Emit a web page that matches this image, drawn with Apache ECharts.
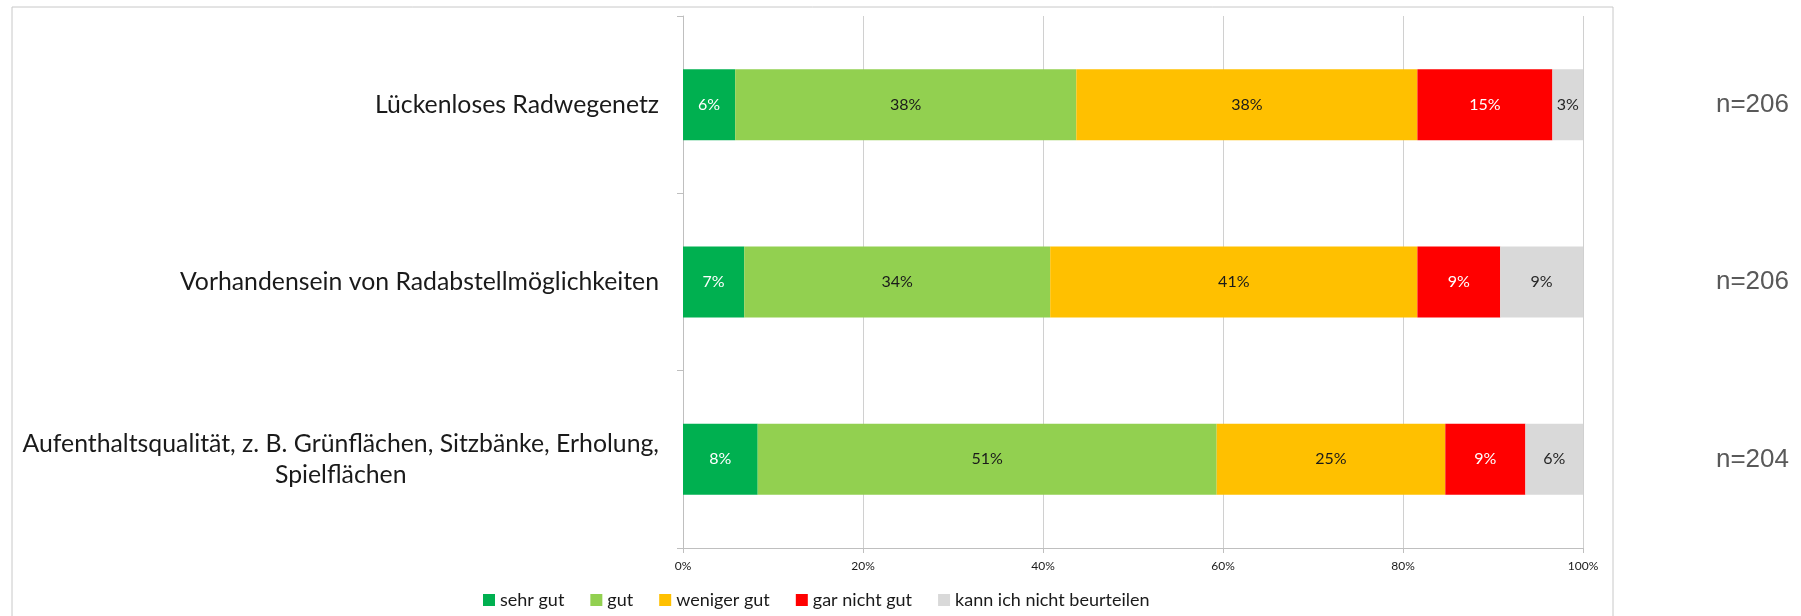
<!DOCTYPE html>
<html>
<head>
<meta charset="utf-8">
<script src="https://cdn.jsdelivr.net/npm/echarts@6/dist/echarts.min.js"></script>
<style>
  html, body { margin: 0; padding: 0; background: #fff; }
  #chart { width: 1801px; height: 616px; }
</style>
</head>
<body>
<div id="chart"></div>
<script>
// Kategorien (von oben nach unten)
const categories = [
  'Lückenloses Radwegenetz',
  'Vorhandensein von Radabstellmöglichkeiten',
  'Aufenthaltsqualität, z. B. Grünflächen, Sitzbänke, Erholung,\nSpielflächen'
];
const nLabels = ['n=206', 'n=206', 'n=204'];

// Anteile in Prozent je Antwort
const sehrGut = [5.8, 6.8, 8.3];
const gut = [37.9, 34.0, 51.0];
const wenigerGut = [37.9, 40.8, 25.4];
const garNichtGut = [15.0, 9.2, 8.9];
const kannNicht = [3.4, 9.2, 6.4];

const xTicks = ['0%', '20%', '40%', '60%', '80%', '100%'];

const seriesDefs = [
  { name: 'sehr gut', data: sehrGut, color: '#00B050', text: '#ffffff' },
  { name: 'gut', data: gut, color: '#92D050', text: '#1a1a1a' },
  { name: 'weniger gut', data: wenigerGut, color: '#FFC000', text: '#1a1a1a' },
  { name: 'gar nicht gut', data: garNichtGut, color: '#FF0000', text: '#ffffff' },
  { name: 'kann ich nicht beurteilen', data: kannNicht, color: '#D9D9D9', text: '#262626' }
];

const chart = echarts.init(document.getElementById('chart'));

const option = {
  animation: false,
  textStyle: { fontFamily: 'Lato' },
  graphic: [{
    type: 'rect',
    shape: { x: 12, y: 7, width: 1601, height: 700 },
    style: { fill: 'none', stroke: '#C8C8C8', lineWidth: 1 },
    silent: true
  }],
  grid: { left: 683, right: 218, top: 16, bottom: 68 },
  legend: {
    left: 478,
    top: 586,
    itemWidth: 12,
    itemHeight: 12,
    itemGap: 26,
    icon: 'rect',
    textStyle: { fontFamily: 'Lato', fontSize: 18, color: '#1a1a1a' },
    data: seriesDefs.map(s => s.name)
  },
  xAxis: {
    type: 'value',
    min: 0,
    max: 100,
    interval: 20,
    axisLine: { show: true, lineStyle: { color: '#BFBFBF' } },
    axisTick: { show: true, length: 5, lineStyle: { color: '#BFBFBF' } },
    splitLine: { show: true, lineStyle: { color: '#D0D0D0' } },
    axisLabel: {
      fontFamily: 'Lato',
      fontSize: 12,
      color: '#1a1a1a',
      margin: 12,
      formatter: v => xTicks[v / 20]
    }
  },
  yAxis: [{
    type: 'category',
    inverse: true,
    data: categories,
    axisLine: { show: true, lineStyle: { color: '#BFBFBF' } },
    axisTick: { show: true, length: 6, lineStyle: { color: '#BFBFBF' } },
    axisLabel: {
      margin: 24,
      color: '#1a1a1a',
      formatter: v => v.split('\n').map(l => '{c|' + l + '}').join('\n'),
      rich: {
        c: { fontFamily: 'Lato', fontSize: 24.8, lineHeight: 31, color: '#1a1a1a', align: 'center' }
      }
    }
  }, {
    type: 'category',
    inverse: true,
    position: 'right',
    data: nLabels,
    axisLine: { show: false },
    axisTick: { show: false },
    axisLabel: {
      margin: 206,
      align: 'right',
      fontFamily: 'Liberation Sans',
      fontSize: 26,
      color: '#595959'
    }
  }],
  series: seriesDefs.map(s => ({
    name: s.name,
    type: 'bar',
    stack: 'total',
    barWidth: '40%',
    data: s.data,
    itemStyle: { color: s.color },
    label: {
      show: true,
      position: 'inside',
      fontFamily: 'Lato',
      fontSize: 16,
      color: s.text,
      formatter: p => Math.round(p.value) + '%'
    }
  }))
};

chart.setOption(option);
</script>
</body>
</html>
